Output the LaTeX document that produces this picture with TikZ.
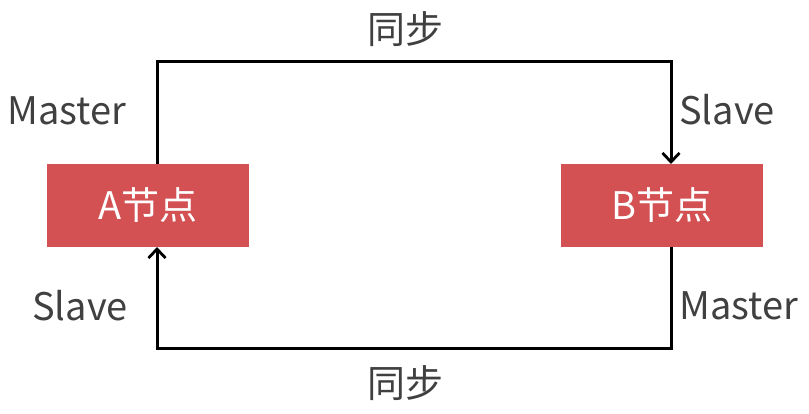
\documentclass[tikz,border=0pt]{standalone}
\usepackage{fontspec}
\setmainfont{Noto Sans CJK SC}
\usetikzlibrary{arrows.meta}
\definecolor{boxred}{RGB}{211,81,83}
\definecolor{txtgray}{RGB}{64,64,64}
\begin{document}
\begin{tikzpicture}[x=1pt,y=-1pt,
  nodebox/.style={fill=boxred,draw=none,minimum width=202pt,minimum height=83pt,inner sep=0pt,text=white,font=\fontsize{38}{44}\selectfont},
  lbl/.style={text=txtgray,font=\fontsize{38}{44}\selectfont,inner sep=0pt},
  conn/.style={line width=3pt,-{Straight Barb[length=9pt,width=17pt,line width=2.8pt]}}]
\useasboundingbox (0,0) rectangle (809,414);
\node[nodebox] (A) at (148,205.5) {A节点};
\node[nodebox] (B) at (662,205.5) {B节点};
\coordinate (atop) at (157,164);
\coordinate (abot) at (157,247);
\coordinate (btop) at (671,164);
\coordinate (bbot) at (671,247);
\coordinate (tl) at (157,62);
\coordinate (tr) at (671,62);
\coordinate (bl) at (157,348);
\coordinate (br) at (671,348);
\draw[conn] (atop) -- (tl) -- (tr) -- (btop);
\draw[conn] (bbot) -- (br) -- (bl) -- (abot);
\node[lbl] (s1) at (405,29) {同步};
\node[lbl] (s2) at (405,383) {同步};
\node[lbl,anchor=west] (m1) at (7,111) {Master};
\node[lbl,anchor=west] (sl1) at (679,110) {Slave};
\node[lbl,anchor=west] (sl2) at (32,306) {Slave};
\node[lbl,anchor=west] (m2) at (679,306) {Master};
\end{tikzpicture}
\end{document}
